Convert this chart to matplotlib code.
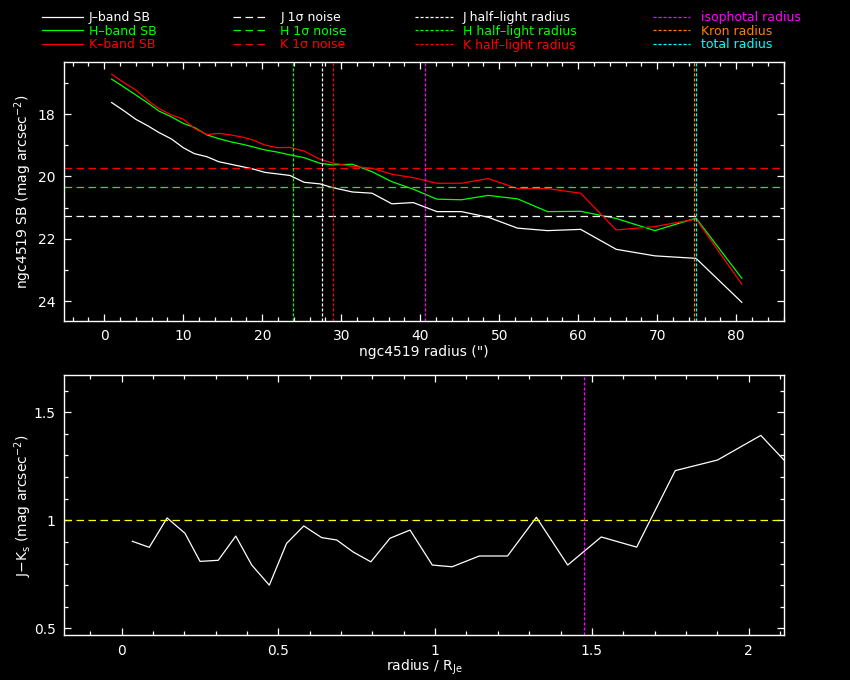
import matplotlib
matplotlib.use('Agg')
import matplotlib.pyplot as plt
from matplotlib.ticker import MultipleLocator, FormatStrFormatter

# ---------------- data ----------------
radius = [0.93, 2.4, 4.0, 5.6, 6.9, 8.5, 10.0, 11.4, 13.0, 14.5, 16.0, 17.5, 18.8,
          20.3, 21.9, 23.5, 25.3, 27.3, 28.9, 31.4, 33.9, 36.4, 39.1, 42.1, 45.2,
          48.6, 52.3, 56.1, 60.3, 64.8, 69.7, 74.9, 80.7]
sb_j = [17.63, 17.88, 18.17, 18.39, 18.59, 18.80, 19.08, 19.27, 19.37, 19.53, 19.61,
        19.69, 19.76, 19.87, 19.92, 19.97, 20.19, 20.24, 20.36, 20.50, 20.54, 20.88,
        20.84, 21.13, 21.13, 21.31, 21.66, 21.74, 21.70, 22.34, 22.55, 22.63, 24.04]
sb_h = [16.88, 17.12, 17.39, 17.66, 17.90, 18.09, 18.30, 18.43, 18.67, 18.79, 18.89,
        18.97, 19.05, 19.15, 19.22, 19.31, 19.40, 19.58, 19.63, 19.61, 19.85, 20.17,
        20.41, 20.73, 20.75, 20.61, 20.72, 21.13, 21.12, 21.35, 21.74, 21.34, 23.27]
sb_k = [16.72, 16.98, 17.23, 17.58, 17.82, 18.03, 18.16, 18.46, 18.66, 18.62, 18.67,
        18.74, 18.83, 18.99, 19.08, 19.07, 19.19, 19.45, 19.57, 19.68, 19.74, 19.93,
        20.04, 20.22, 20.22, 20.07, 20.39, 20.39, 20.54, 21.72, 21.61, 21.37, 23.46]

noise_j, noise_h, noise_k = 21.27, 20.35, 19.74
r_half_j, r_half_h, r_half_k = 27.5, 23.9, 28.9
r_iso, r_kron, r_total = 40.6, 74.7, 74.9

rnorm = [0.034, 0.088, 0.145, 0.202, 0.250, 0.308, 0.364, 0.415, 0.471, 0.526, 0.581,
         0.638, 0.686, 0.739, 0.795, 0.856, 0.920, 0.991, 1.054, 1.141, 1.231, 1.323,
         1.423, 1.530, 1.643, 1.766, 1.901, 2.039, 2.19, 2.36, 2.53, 2.72, 2.93]
color_jk = [0.903, 0.875, 1.011, 0.940, 0.810, 0.815, 0.927, 0.793, 0.700, 0.893, 0.974,
            0.920, 0.909, 0.853, 0.808, 0.917, 0.955, 0.793, 0.785, 0.835, 0.835, 1.014,
            0.793, 0.923, 0.876, 1.230, 1.279, 1.393, 1.16, 0.62, 0.94, 1.26, 0.58]
rnorm_iso = 1.476
jk_ref = 1.0

# ---------------- style ----------------
WHITE, GREEN, RED = '#ffffff', '#00ff00', '#ff0000'
MAGENTA, ORANGE, CYAN, YELLOW = '#ff00ff', '#ff8000', '#00ffff', '#ffff00'
DASH = (0, (6, 3.6))
DOT = (0, (2.5, 1.5))
LW = 0.9
FS = 10

plt.rcParams['font.family'] = ['DejaVu Sans']
plt.rcParams['mathtext.fontset'] = 'dejavusans'

fig = plt.figure(figsize=(8.5, 6.8), dpi=100, facecolor='black')

def style_axes(ax):
    ax.set_facecolor('black')
    for s in ax.spines.values():
        s.set_color(WHITE)
        s.set_linewidth(1.0)
    ax.tick_params(which='both', direction='in', top=True, right=True,
                   colors=WHITE, labelcolor=WHITE, labelsize=FS, width=0.9, pad=6)
    ax.tick_params(which='major', length=5)
    ax.tick_params(which='minor', length=3)

# ---------------- top panel ----------------
ax1 = fig.add_axes([64/850, 1-321/680, 720/850, 259.3/680])
style_axes(ax1)
lj, = ax1.plot(radius, sb_j, color=WHITE, lw=LW)
lh, = ax1.plot(radius, sb_h, color=GREEN, lw=LW)
lk, = ax1.plot(radius, sb_k, color=RED, lw=LW)
nj = ax1.axhline(noise_j, color=WHITE, lw=LW, ls=DASH)
nh = ax1.axhline(noise_h, color=GREEN, lw=LW, ls=DASH)
nk = ax1.axhline(noise_k, color=RED, lw=LW, ls=DASH)
hj = ax1.axvline(r_half_j, color=WHITE, lw=LW, ls=DOT)
hh = ax1.axvline(r_half_h, color=GREEN, lw=LW, ls=DOT)
hk = ax1.axvline(r_half_k, color=RED, lw=LW, ls=DOT)
vi = ax1.axvline(r_iso, color=MAGENTA, lw=LW, ls=DOT)
vk = ax1.axvline(r_kron, color=ORANGE, lw=LW, ls=DOT)
vt = ax1.axvline(r_total, color=CYAN, lw=LW, ls=DOT)

ax1.set_xlim(-5.1, 86.04)
ax1.set_ylim(24.64, 16.32)
ax1.xaxis.set_major_locator(MultipleLocator(10))
ax1.xaxis.set_minor_locator(MultipleLocator(2))
ax1.yaxis.set_major_locator(MultipleLocator(2))
ax1.yaxis.set_minor_locator(MultipleLocator(1))
ax1.set_xlabel('ngc4519 radius (")', color=WHITE, fontsize=FS)
ax1.set_ylabel('ngc4519 SB (mag arcsec$^{-2}$)', color=WHITE, fontsize=FS)
ax1.xaxis.set_label_coords(0.5, -0.093)
ax1.yaxis.set_label_coords(-0.042, 0.5)

# ---------------- bottom panel ----------------
ax2 = fig.add_axes([64/850, 1-635.3/680, 720/850, 260/680])
style_axes(ax2)
ax2.plot(rnorm, color_jk, color=WHITE, lw=LW)
ax2.axhline(jk_ref, color=YELLOW, lw=LW, ls=DASH)
ax2.axvline(rnorm_iso, color=MAGENTA, lw=LW, ls=DOT)
ax2.set_xlim(-0.184, 2.113)
ax2.set_ylim(0.468, 1.671)
ax2.xaxis.set_major_locator(MultipleLocator(0.5))
ax2.xaxis.set_minor_locator(MultipleLocator(0.1))
ax2.yaxis.set_major_locator(MultipleLocator(0.5))
ax2.yaxis.set_minor_locator(MultipleLocator(0.1))
ax2.xaxis.set_major_formatter(FormatStrFormatter('%g'))
ax2.yaxis.set_major_formatter(FormatStrFormatter('%g'))
ax2.set_xlabel('radius / R$_{\\rm Je}$', color=WHITE, fontsize=FS)
ax2.set_ylabel('J$-$K$_{\\rm s}$ (mag arcsec$^{-2}$)', color=WHITE, fontsize=FS)
ax2.xaxis.set_label_coords(0.5, -0.086)
ax2.yaxis.set_label_coords(-0.042, 0.5)

# ---------------- legend (four columns) ----------------
columns = [
    ([lj, lh, lk], ['J\u2013band SB', 'H\u2013band SB', 'K\u2013band SB'], 42, 3.3, 0.45),
    ([nj, nh, nk], ['J 1\u03c3 noise', 'H 1\u03c3 noise', 'K 1\u03c3 noise'], 233, 2.8, 1.0),
    ([hj, hh, hk], ['J half\u2013light radius', 'H half\u2013light radius',
                    'K half\u2013light radius'], 415, 3.0, 0.85),
    ([vi, vk, vt], ['isophotal radius', 'Kron radius', 'total radius'], 653, 2.95, 0.9),
]
for handles, labels, x0, hl, htp in columns:
    leg = fig.legend(handles, labels, loc='upper left',
                     bbox_to_anchor=(x0/850, 1 - 11/680),
                     frameon=False, fontsize=9, borderpad=0, borderaxespad=0,
                     handlelength=hl, handletextpad=htp, labelspacing=0.06)
    for txt, h in zip(leg.get_texts(), handles):
        txt.set_color(h.get_color())

fig.savefig('out.png', dpi=100, facecolor='black')
